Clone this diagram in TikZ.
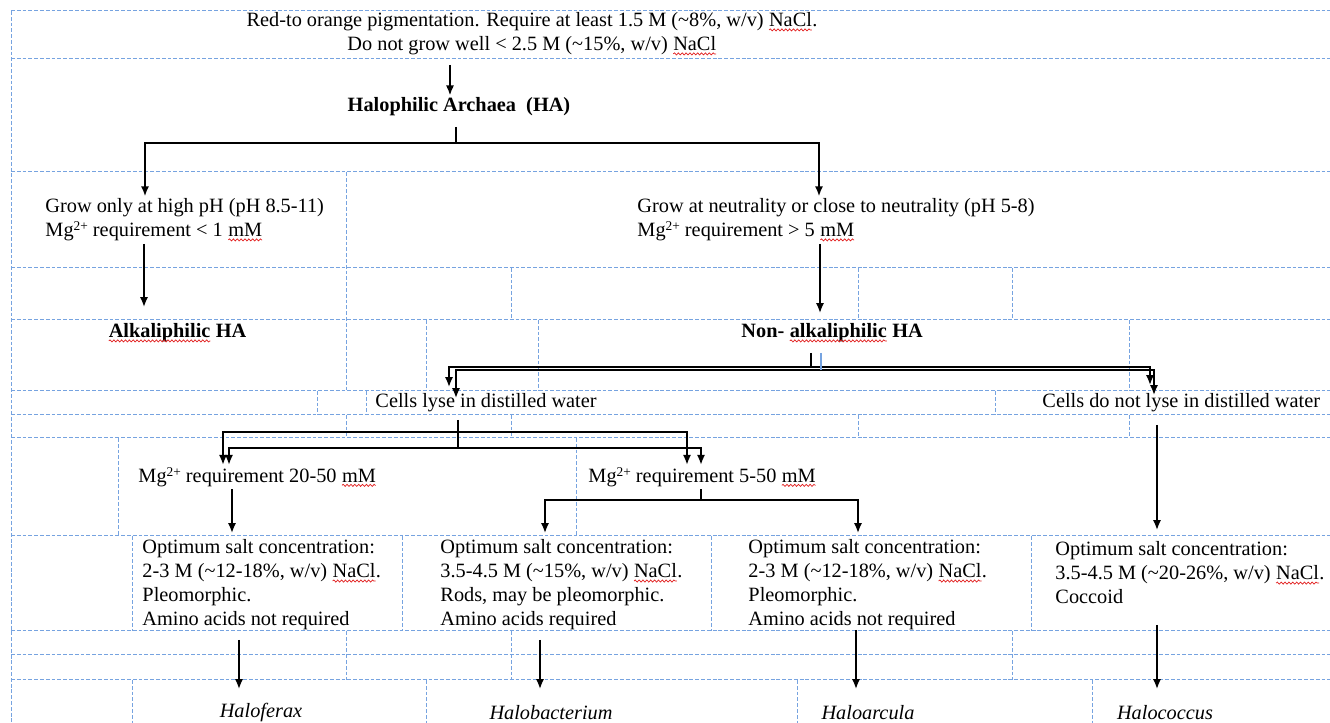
\documentclass[tikz,border=0pt]{standalone}
\usepackage{fontspec}
\setmainfont{Liberation Serif}
\usepackage{xcolor}
\usepackage{tikz}
\usetikzlibrary{calc}
\usetikzlibrary{arrows.meta}
\usetikzlibrary{positioning}
\usetikzlibrary{decorations.pathmorphing}
\tikzset{>={Latex[length=2.8pt, width=2.3pt]}}
\definecolor{gridblue}{RGB}{118,163,224}
\definecolor{wordred}{RGB}{225,30,30}
\tikzstyle{grid} = [gridblue, line width=0.28pt, dash pattern=on 1.1pt off 0.55pt]
\tikzstyle{txt} = [draw=none, inner sep=0.5pt, align=left, font=\fontsize{5.78}{6.83}\selectfont]
\tikzstyle{con} = [draw = black, line width=0.45pt]
\tikzstyle{wave} = [wordred, line width=0.2pt, decorate, decoration={snake, amplitude=0.3pt, segment length=1.1pt}]
\newcommand{\spell}[1]{\tikz[baseline=(sw.base)]{\node [inner sep=0pt, outer sep=0pt] (sw) {#1}; \draw [wave] ([yshift=-0.9pt]sw.base west) -- ([yshift=-0.9pt]sw.base east);}}
\newcommand{\mgion}{Mg\raisebox{1.75pt}{\fontsize{3.8}{4}\selectfont 2+}}

\begin{document}
\begin{tikzpicture}[y=-1cm]
\useasboundingbox (0,0) rectangle (13.30,7.23);

% table grid
\foreach \y in {0.11,0.59,1.72,2.68,3.20,3.91,4.15,4.38,5.36,6.31,6.55,6.80}
  \draw [grid] (0.11,\y) -- (13.30,\y);
\draw [grid] (0.11,0.11) -- (0.11,7.23);
\draw [grid] (3.46,1.72) -- (3.46,3.91);
\foreach \x in {5.11,8.58,10.12} \draw [grid] (\x,2.68) -- (\x,3.20);
\foreach \x in {4.26,5.38,11.29} \draw [grid] (\x,3.20) -- (\x,3.91);
\foreach \x in {3.17,3.66,9.95} \draw [grid] (\x,3.91) -- (\x,4.15);
\foreach \x in {3.46,5.11,8.58,11.29} \draw [grid] (\x,4.15) -- (\x,4.38);
\foreach \x in {1.18,5.76} \draw [grid] (\x,4.38) -- (\x,5.36);
\foreach \x in {1.32,4.02,7.11,10.31} \draw [grid] (\x,5.36) -- (\x,6.31);
\foreach \x in {3.46,5.11,10.12} \draw [grid] (\x,6.31) -- (\x,6.80);
\foreach \x in {1.32,4.26,7.97,10.92} \draw [grid] (\x,6.80) -- (\x,7.23);

% texts
\node [txt, align=center] (top) at (5.32,0.34) {Red-to orange pigmentation. Require at least 1.5 M (\textasciitilde 8\%, w/v) \spell{NaCl}.\\Do not grow well < 2.5 M (\textasciitilde 15\%, w/v) \spell{NaCl}};
\node [txt] (ha) at (4.59,1.07) {\textbf{Halophilic Archaea\ \ (HA)}};
\node [txt, anchor=west] (grow1) at (0.43,2.20) {Grow only at high pH (pH 8.5-11)\\\mgion{} requirement < 1 \spell{mM}};
\node [txt, anchor=west] (grow2) at (6.35,2.20) {Grow at neutrality or close to neutrality (pH 5-8)\\\mgion{} requirement > 5 \spell{mM}};
\node [txt, anchor=west] (alk) at (1.06,3.33) {\textbf{\spell{Alkaliphilic} HA}};
\node [txt, anchor=west] (nonalk) at (7.39,3.33) {\textbf{Non- \spell{alkaliphilic} HA}};
\node [txt, anchor=west] (lyse) at (3.73,4.03) {Cells lyse in distilled water};
\node [txt, anchor=west] (nolyse) at (10.40,4.03) {Cells do not lyse in distilled water};
\node [txt, anchor=west] (mgA) at (1.36,4.77) {\mgion{} requirement 20-50 \spell{mM}};
\node [txt, anchor=west] (mgB) at (5.86,4.77) {\mgion{} requirement 5-50 \spell{mM}};
\node [txt, anchor=west] (optA) at (1.40,5.85) {Optimum salt concentration:\\2-3 M (\textasciitilde 12-18\%, w/v) \spell{NaCl}.\\Pleomorphic.\\Amino acids not required};
\node [txt, anchor=west] (optB) at (4.38,5.85) {Optimum salt concentration:\\3.5-4.5 M (\textasciitilde 15\%, w/v) \spell{NaCl}.\\Rods, may be pleomorphic.\\Amino acids required};
\node [txt, anchor=west] (optC) at (7.46,5.85) {Optimum salt concentration:\\2-3 M (\textasciitilde 12-18\%, w/v) \spell{NaCl}.\\Pleomorphic.\\Amino acids not required};
\node [txt, anchor=west] (optD) at (10.53,5.73) {Optimum salt concentration:\\3.5-4.5 M (\textasciitilde 20-26\%, w/v) \spell{NaCl}.\\Coccoid};
\node [txt] (ferax) at (2.61,7.13) {\textit{Haloferax}};
\node [txt] (bact) at (5.51,7.13) {\textit{Halobacterium}};
\node [txt] (arcula) at (8.68,7.13) {\textit{Haloarcula}};
\node [txt] (coccus) at (11.65,7.13) {\textit{Halococcus}};

% connectors
\coordinate (c1) at (4.50,0.65);
\draw [->, con] (c1) to (ha.north -| c1);
\coordinate (c2) at (4.56,1.27);
\coordinate (c3) at (4.56,1.43);
\coordinate (c4) at (1.45,1.43);
\coordinate (c5) at (8.19,1.43);
\draw [con] (c2) to (c3);
\draw [<->, con] (grow1.north -| c4) |- (c5) -- (grow2.north -| c5);
\coordinate (c6) at (1.44,3.07);
\draw [->, con] (grow1.south -| c6) to (c6);
\coordinate (c7) at (8.20,3.13);
\draw [->, con] (grow2.south -| c7) to (c7);

\coordinate (n1) at (8.11,3.53);
\coordinate (n2) at (8.11,3.67);
\draw [con] (n1) to (n2);
\coordinate (n3) at (4.49,3.87);
\coordinate (n4) at (11.50,3.67);
\coordinate (n5) at (11.50,3.85);
\draw [<->, con] (n3) |- (n4) -- (n5);
\coordinate (n6) at (4.56,3.98);
\coordinate (n7) at (11.54,3.70);
\coordinate (n8) at (11.54,3.95);
\draw [<->, con] (n6) |- (n7) -- (n8);
\draw [gridblue, line width=0.4pt] (8.21,3.53) -- (8.21,3.70);

\coordinate (d1) at (4.58,4.20);
\coordinate (d2) at (4.58,4.48);
\draw [con] (d1) to (d2);
\coordinate (d3) at (2.23,4.32);
\coordinate (d4) at (6.87,4.32);
\draw [<->, con] (mgA.north -| d3) |- (d4) -- (mgB.north -| d4);
\coordinate (d5) at (2.29,4.48);
\coordinate (d6) at (7.01,4.48);
\draw [<->, con] (mgA.north -| d5) |- (d6) -- (mgB.north -| d6);
\coordinate (d7) at (2.32,5.33);
\draw [->, con] (mgA.south -| d7) to (d7);
\coordinate (d8) at (7.01,5.00);
\draw [con] (mgB.south -| d8) to (d8);
\coordinate (d9) at (5.45,5.33);
\coordinate (d10) at (8.58,5.33);
\draw [<->, con] (d9) |- (d8) -| (d10);
\coordinate (d11) at (11.57,4.25);
\coordinate (d12) at (11.57,5.30);
\draw [->, con] (d11) to (d12);

\coordinate (e1) at (2.39,6.40);
\coordinate (e2) at (2.39,6.89);
\draw [->, con] (e1) to (e2);
\coordinate (e3) at (5.40,6.40);
\coordinate (e4) at (5.40,6.89);
\draw [->, con] (e3) to (e4);
\coordinate (e5) at (8.56,6.30);
\coordinate (e6) at (8.56,6.89);
\draw [->, con] (e5) to (e6);
\coordinate (e7) at (11.57,6.25);
\coordinate (e8) at (11.57,6.89);
\draw [->, con] (e7) to (e8);
\end{tikzpicture}
\end{document}
